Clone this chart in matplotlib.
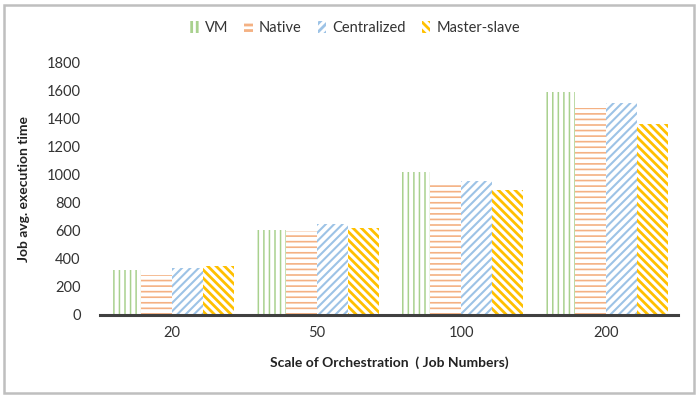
import matplotlib.pyplot as plt
import numpy as np
from matplotlib.patches import Rectangle

plt.rcParams['font.family'] = ['Lato', 'DejaVu Sans']

job_numbers = ['20', '50', '100', '200']
series = ['VM', 'Native', 'Centralized', 'Master-slave']
vm = [320, 610, 1020, 1590]
native = [285, 600, 950, 1480]
centralized = [335, 650, 955, 1515]
master_slave = [350, 620, 890, 1365]

colors = ['#A9D18E', '#F4B183', '#9DC3E6', '#FFC000']
hatches = ['|||', '---', '////', '\\\\\\\\']
hatch_widths = [1.1, 1.2, 1.5, 2.0]

fig = plt.figure(figsize=(6.98, 3.96), dpi=100)
ax = fig.add_axes([100 / 698, 81 / 396, 578 / 698, 252 / 396])

x = np.arange(len(job_numbers))
w = 0.215
for i, vals in enumerate([vm, native, centralized, master_slave]):
    plt.rcParams['hatch.linewidth'] = hatch_widths[i]
    ax.bar(x + (i - 1.5) * w, vals, w, facecolor='white', edgecolor=colors[i],
           hatch=hatches[i], linewidth=0, label=series[i])

ax.set_xlim(-0.5, 3.5)
ax.set_ylim(0, 1800)
ax.set_yticks(range(0, 1801, 200))
ax.set_xticks(x)
ax.set_xticklabels(job_numbers)
ax.tick_params(length=0, labelsize=10.5, colors='#333333', pad=8)
ax.tick_params(axis='y', pad=14)
for s in ['top', 'right', 'left']:
    ax.spines[s].set_visible(False)
ax.spines['bottom'].set_color('#404040')
ax.spines['bottom'].set_linewidth(2.2)

ax.set_ylabel('Job avg. execution time', fontsize=10, fontweight='bold',
              color='#222222', labelpad=12)
ax.set_xlabel('Scale of Orchestration  ( Job Numbers)', fontsize=10,
              fontweight='bold', color='#222222', labelpad=12)

leg = ax.legend(loc='center', bbox_to_anchor=(355 / 698, 1 - 28 / 396),
                bbox_transform=fig.transFigure, ncol=4, frameon=False,
                fontsize=10.5, handlelength=0.6, handleheight=0.9,
                handletextpad=0.4, columnspacing=1.1)
for t in leg.get_texts():
    t.set_color('#333333')

fig.patches.append(Rectangle((4 / 698, 3 / 396), 690 / 698, 388 / 396,
                             transform=fig.transFigure, fill=False,
                             edgecolor='#BFBFBF', linewidth=1.8))

fig.savefig('out.png', dpi=100)
